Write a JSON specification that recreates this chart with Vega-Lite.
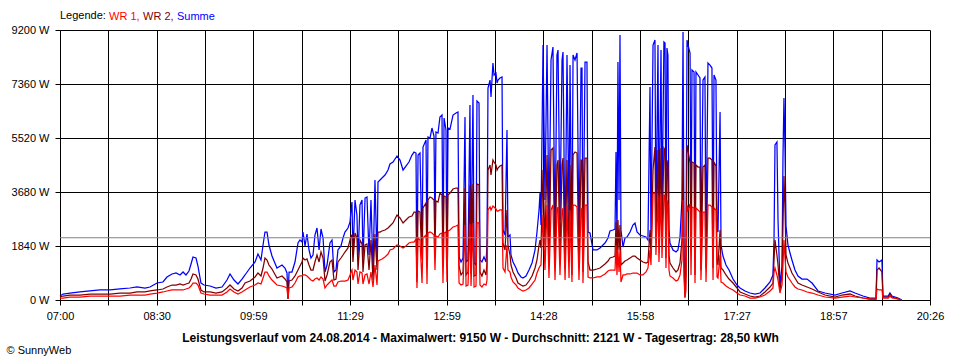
{
  "$schema": "https://vega.github.io/schema/vega-lite/v6.json",
  "autosize": "none",
  "width": 870,
  "height": 270,
  "padding": {"left": 60, "top": 30, "right": 30, "bottom": 60},
  "background": "white",
  "config": {
    "font": "Liberation Sans",
    "view": {"stroke": null},
    "axis": {"gridColor": "#000000", "gridOpacity": 1, "gridWidth": 1, "domainColor": "#000000", "tickColor": "#000000", "labelColor": "#000000", "labelFontSize": 11, "tickSize": 5, "titleColor": "#000000"}
  },
  "layer": [
    {
      "data": {"values": [
{"m":0,"wr1":68,"wr2":102,"sum":136},{"m":2.8,"wr1":68,"wr2":136,"sum":204},{"m":9.3,"wr1":102,"wr2":170,"sum":238},{"m":18.5,"wr1":102,"wr2":170,"sum":273},{"m":27.8,"wr1":136,"wr2":204,"sum":307},{"m":37.1,"wr1":136,"wr2":204,"sum":341},{"m":46.3,"wr1":136,"wr2":204,"sum":341},{"m":55.6,"wr1":136,"wr2":238,"sum":375},{"m":64.9,"wr1":170,"wr2":238,"sum":409},{"m":71.3,"wr1":170,"wr2":273,"sum":443},{"m":78.7,"wr1":170,"wr2":273,"sum":409},{"m":83.4,"wr1":204,"wr2":307,"sum":443},{"m":89.9,"wr1":238,"wr2":341,"sum":579},{"m":95.4,"wr1":273,"wr2":375,"sum":613},{"m":99.1,"wr1":307,"wr2":443,"sum":784},{"m":103.8,"wr1":341,"wr2":511,"sum":886},{"m":107.5,"wr1":341,"wr2":511,"sum":920},{"m":111.2,"wr1":341,"wr2":545,"sum":852},{"m":114.0,"wr1":341,"wr2":511,"sum":954},{"m":116.7,"wr1":375,"wr2":545,"sum":852},{"m":119.5,"wr1":409,"wr2":579,"sum":988},{"m":121.4,"wr1":477,"wr2":715,"sum":1227},{"m":123.2,"wr1":579,"wr2":886,"sum":1465},{"m":126.0,"wr1":579,"wr2":852,"sum":1431},{"m":127.8,"wr1":511,"wr2":715,"sum":1158},{"m":130.6,"wr1":238,"wr2":341,"sum":579},{"m":133.4,"wr1":204,"wr2":273,"sum":511},{"m":139.0,"wr1":170,"wr2":273,"sum":477},{"m":144.5,"wr1":170,"wr2":238,"sum":409},{"m":150.1,"wr1":170,"wr2":273,"sum":443},{"m":154.7,"wr1":273,"wr2":409,"sum":681},{"m":157.5,"wr1":375,"wr2":511,"sum":886},{"m":161.2,"wr1":273,"wr2":375,"sum":681},{"m":164.9,"wr1":204,"wr2":307,"sum":545},{"m":168.6,"wr1":273,"wr2":409,"sum":715},{"m":171.4,"wr1":341,"wr2":579,"sum":852},{"m":176.0,"wr1":443,"wr2":647,"sum":1090},{"m":180.7,"wr1":511,"wr2":784,"sum":1295},{"m":183.4,"wr1":579,"wr2":920,"sum":1567},{"m":186.2,"wr1":545,"wr2":818,"sum":1363},{"m":188.1,"wr1":750,"wr2":1090,"sum":1874},{"m":189.9,"wr1":954,"wr2":1431,"sum":2317},{"m":191.8,"wr1":954,"wr2":1363,"sum":2317},{"m":193.6,"wr1":818,"wr2":1192,"sum":1874},{"m":196.4,"wr1":681,"wr2":1056,"sum":1499},{"m":201.0,"wr1":511,"wr2":750,"sum":1090},{"m":205.7,"wr1":477,"wr2":818,"sum":1192},{"m":208.4,"wr1":443,"wr2":715,"sum":1090},{"m":210.3,"wr1":409,"wr2":613,"sum":920},{"m":211.2,"wr1":34,"wr2":34,"sum":68},{"m":212.2,"wr1":409,"wr2":647,"sum":954},{"m":214.9,"wr1":443,"wr2":681,"sum":954},{"m":217.7,"wr1":579,"wr2":818,"sum":1295},{"m":220.5,"wr1":784,"wr2":1022,"sum":1942},{"m":222.3,"wr1":818,"wr2":1158,"sum":2044},{"m":224.2,"wr1":818,"wr2":1295,"sum":1976},{"m":225.1,"wr1":852,"wr2":1431,"sum":2317},{"m":227.0,"wr1":852,"wr2":1363,"sum":1840},{"m":228.8,"wr1":818,"wr2":1397,"sum":2249},{"m":230.7,"wr1":750,"wr2":1192,"sum":1704},{"m":232.5,"wr1":681,"wr2":1022,"sum":1431},{"m":234.4,"wr1":647,"wr2":1022,"sum":1533},{"m":236.2,"wr1":715,"wr2":1295,"sum":2215},{"m":238.1,"wr1":750,"wr2":1533,"sum":2453},{"m":240.0,"wr1":681,"wr2":1295,"sum":1704},{"m":241.8,"wr1":784,"wr2":1635,"sum":2419},{"m":243.7,"wr1":715,"wr2":1431,"sum":2112},{"m":245.5,"wr1":409,"wr2":647,"sum":954},{"m":247.4,"wr1":511,"wr2":852,"sum":1192},{"m":250.1,"wr1":613,"wr2":1295,"sum":1942},{"m":252.0,"wr1":681,"wr2":1363,"sum":2044},{"m":253.8,"wr1":477,"wr2":681,"sum":954},{"m":255.7,"wr1":477,"wr2":715,"sum":1022},{"m":257.5,"wr1":613,"wr2":1295,"sum":1704},{"m":260.3,"wr1":647,"wr2":1431,"sum":1840},{"m":262.2,"wr1":647,"wr2":1533,"sum":2112},{"m":264.0,"wr1":647,"wr2":1635,"sum":2317},{"m":266.8,"wr1":681,"wr2":1772,"sum":2453},{"m":268.7,"wr1":852,"wr2":2044,"sum":2658},{"m":269.6,"wr1":954,"wr2":2180,"sum":3067},{"m":270.5,"wr1":1022,"wr2":2215,"sum":3339},{"m":271.4,"wr1":681,"wr2":1295,"sum":1533},{"m":273.3,"wr1":1022,"wr2":2283,"sum":3407},{"m":275.1,"wr1":954,"wr2":2112,"sum":2896},{"m":276.1,"wr1":545,"wr2":1022,"sum":1431},{"m":277.9,"wr1":954,"wr2":2044,"sum":3237},{"m":279.8,"wr1":920,"wr2":1908,"sum":3407},{"m":280.7,"wr1":545,"wr2":954,"sum":1363},{"m":282.6,"wr1":852,"wr2":1874,"sum":3475},{"m":284.4,"wr1":886,"wr2":1908,"sum":3509},{"m":286.3,"wr1":545,"wr2":1022,"sum":1533},{"m":288.1,"wr1":954,"wr2":2044,"sum":3407},{"m":290.0,"wr1":443,"wr2":681,"sum":1022},{"m":291.8,"wr1":1192,"wr2":2249,"sum":4089},{"m":293.7,"wr1":511,"wr2":1022,"sum":1295},{"m":294.6,"wr1":1329,"wr2":2317,"sum":4020},{"m":296.5,"wr1":1363,"wr2":2317,"sum":4089},{"m":298.3,"wr1":1397,"wr2":2351,"sum":4157},{"m":301.1,"wr1":1465,"wr2":2385,"sum":4259},{"m":303.9,"wr1":1567,"wr2":2453,"sum":4429},{"m":305.7,"wr1":1704,"wr2":2521,"sum":4634},{"m":308.5,"wr1":1738,"wr2":2624,"sum":4702},{"m":312.2,"wr1":1874,"wr2":2896,"sum":4906},{"m":315.0,"wr1":1840,"wr2":2794,"sum":4770},{"m":317.8,"wr1":1772,"wr2":2624,"sum":4429},{"m":320.5,"wr1":1840,"wr2":2726,"sum":4565},{"m":323.3,"wr1":1942,"wr2":2828,"sum":4702},{"m":326.1,"wr1":1976,"wr2":2862,"sum":4940},{"m":328.0,"wr1":1976,"wr2":2998,"sum":5042},{"m":329.8,"wr1":2078,"wr2":2998,"sum":5008},{"m":330.7,"wr1":409,"wr2":613,"sum":784},{"m":331.7,"wr1":2112,"wr2":3032,"sum":4940},{"m":333.5,"wr1":2044,"wr2":2998,"sum":5008},{"m":335.4,"wr1":579,"wr2":1363,"sum":1704},{"m":336.3,"wr1":2112,"wr2":3134,"sum":5213},{"m":339.1,"wr1":2215,"wr2":3305,"sum":5451},{"m":340.0,"wr1":545,"wr2":1192,"sum":1465},{"m":340.9,"wr1":2283,"wr2":3407,"sum":5554},{"m":342.8,"wr1":2317,"wr2":3509,"sum":5520},{"m":344.6,"wr1":2283,"wr2":3475,"sum":5860},{"m":346.5,"wr1":2215,"wr2":3407,"sum":5588},{"m":347.4,"wr1":1022,"wr2":1704,"sum":2385},{"m":348.3,"wr1":2180,"wr2":3373,"sum":5724},{"m":350.2,"wr1":2146,"wr2":3339,"sum":5690},{"m":352.0,"wr1":2249,"wr2":3645,"sum":6235},{"m":353.9,"wr1":2283,"wr2":3577,"sum":6303},{"m":354.8,"wr1":579,"wr2":1295,"sum":1363},{"m":355.8,"wr1":2283,"wr2":3543,"sum":6201},{"m":357.6,"wr1":2317,"wr2":3509,"sum":5792},{"m":358.5,"wr1":613,"wr2":1192,"sum":1465},{"m":359.5,"wr1":2351,"wr2":3577,"sum":5860},{"m":361.3,"wr1":2385,"wr2":3645,"sum":5826},{"m":364.1,"wr1":2487,"wr2":3782,"sum":6303},{"m":366.9,"wr1":2521,"wr2":3816,"sum":6371},{"m":368.7,"wr1":2555,"wr2":3816,"sum":6405},{"m":369.7,"wr1":579,"wr2":1158,"sum":1465},{"m":371.5,"wr1":511,"wr2":852,"sum":1295},{"m":373.4,"wr1":545,"wr2":954,"sum":1431},{"m":375.2,"wr1":2555,"wr2":3816,"sum":6235},{"m":376.2,"wr1":477,"wr2":852,"sum":1295},{"m":378.0,"wr1":511,"wr2":954,"sum":1363},{"m":379.8,"wr1":2589,"wr2":3918,"sum":6644},{"m":380.8,"wr1":477,"wr2":886,"sum":1295},{"m":382.6,"wr1":2624,"wr2":3952,"sum":6984},{"m":383.6,"wr1":443,"wr2":818,"sum":1261},{"m":385.4,"wr1":477,"wr2":852,"sum":1192},{"m":386.3,"wr1":2624,"wr2":3952,"sum":6780},{"m":388.2,"wr1":2624,"wr2":3918,"sum":6712},{"m":389.1,"wr1":511,"wr2":954,"sum":1363},{"m":390.9,"wr1":443,"wr2":818,"sum":1295},{"m":392.8,"wr1":545,"wr2":1022,"sum":1465},{"m":394.7,"wr1":511,"wr2":852,"sum":1295},{"m":395.6,"wr1":681,"wr2":1295,"sum":1874},{"m":396.5,"wr1":3067,"wr2":4429,"sum":7223},{"m":398.4,"wr1":3169,"wr2":4599,"sum":7495},{"m":399.3,"wr1":3067,"wr2":4259,"sum":6916},{"m":401.1,"wr1":3203,"wr2":4770,"sum":8075},{"m":402.1,"wr1":3169,"wr2":4702,"sum":7666},{"m":403.9,"wr1":3101,"wr2":4599,"sum":7734},{"m":404.9,"wr1":3032,"wr2":4429,"sum":7393},{"m":405.8,"wr1":3032,"wr2":4497,"sum":7495},{"m":407.6,"wr1":3067,"wr2":4565,"sum":7564},{"m":409.5,"wr1":3067,"wr2":4599,"sum":7598},{"m":410.4,"wr1":1090,"wr2":1942,"sum":2385},{"m":412.3,"wr1":954,"wr2":1704,"sum":2215},{"m":414.1,"wr1":1874,"wr2":3067,"sum":5792},{"m":415.0,"wr1":1022,"wr2":1874,"sum":2146},{"m":416.9,"wr1":954,"wr2":1533,"sum":2215},{"m":417.8,"wr1":784,"wr2":1192,"sum":1533},{"m":419.7,"wr1":613,"wr2":954,"sum":1295},{"m":422.5,"wr1":511,"wr2":750,"sum":1090},{"m":424.3,"wr1":409,"wr2":579,"sum":920},{"m":427.1,"wr1":341,"wr2":511,"sum":784},{"m":428.9,"wr1":307,"wr2":477,"sum":750},{"m":431.7,"wr1":341,"wr2":511,"sum":818},{"m":434.5,"wr1":409,"wr2":647,"sum":1022},{"m":437.3,"wr1":545,"wr2":818,"sum":1261},{"m":440.1,"wr1":681,"wr2":1090,"sum":1704},{"m":441.9,"wr1":920,"wr2":1363,"sum":2317},{"m":443.8,"wr1":1090,"wr2":1874,"sum":3067},{"m":444.7,"wr1":1158,"wr2":2044,"sum":3645},{"m":445.6,"wr1":1192,"wr2":1772,"sum":2555},{"m":447.5,"wr1":2896,"wr2":4429,"sum":8688},{"m":449.3,"wr1":1022,"wr2":1874,"sum":3407},{"m":451.2,"wr1":3237,"wr2":4940,"sum":8688},{"m":453.0,"wr1":750,"wr2":1363,"sum":2385},{"m":454.9,"wr1":3067,"wr2":5111,"sum":8177},{"m":456.7,"wr1":3237,"wr2":5179,"sum":8620},{"m":458.6,"wr1":681,"wr2":1192,"sum":2044},{"m":460.4,"wr1":3067,"wr2":4599,"sum":8347},{"m":461.4,"wr1":3169,"wr2":4770,"sum":8518},{"m":463.2,"wr1":852,"wr2":1533,"sum":2726},{"m":465.1,"wr1":2998,"wr2":4599,"sum":8177},{"m":466.0,"wr1":3134,"wr2":4838,"sum":8449},{"m":467.9,"wr1":681,"wr2":1090,"sum":1533},{"m":469.7,"wr1":3203,"wr2":4770,"sum":8347},{"m":471.6,"wr1":750,"wr2":1295,"sum":2555},{"m":472.5,"wr1":3067,"wr2":4599,"sum":8006},{"m":474.3,"wr1":613,"wr2":852,"sum":1533},{"m":475.3,"wr1":3237,"wr2":4940,"sum":8347},{"m":477.1,"wr1":3237,"wr2":5042,"sum":8177},{"m":479.0,"wr1":3169,"wr2":5008,"sum":8415},{"m":480.8,"wr1":681,"wr2":1090,"sum":2044},{"m":482.7,"wr1":3067,"wr2":4770,"sum":7904},{"m":483.6,"wr1":3134,"wr2":4770,"sum":7904},{"m":484.5,"wr1":579,"wr2":954,"sum":1363},{"m":486.4,"wr1":3237,"wr2":4838,"sum":8109},{"m":488.2,"wr1":3237,"wr2":4838,"sum":8109},{"m":489.2,"wr1":784,"wr2":1295,"sum":2317},{"m":491.0,"wr1":750,"wr2":1022,"sum":2283},{"m":493.8,"wr1":750,"wr2":1022,"sum":1704},{"m":497.5,"wr1":784,"wr2":1056,"sum":1704},{"m":500.3,"wr1":784,"wr2":1090,"sum":1772},{"m":504.9,"wr1":886,"wr2":1227,"sum":1942},{"m":507.7,"wr1":988,"wr2":1329,"sum":2112},{"m":509.5,"wr1":1022,"wr2":1431,"sum":2351},{"m":512.3,"wr1":1022,"wr2":1465,"sum":2385},{"m":514.2,"wr1":1022,"wr2":1499,"sum":2419},{"m":515.1,"wr1":1874,"wr2":2658,"sum":5042},{"m":516.0,"wr1":852,"wr2":1295,"sum":2044},{"m":516.9,"wr1":1704,"wr2":2726,"sum":8109},{"m":517.9,"wr1":954,"wr2":1704,"sum":3407},{"m":518.8,"wr1":1704,"wr2":2555,"sum":9029},{"m":519.7,"wr1":613,"wr2":1192,"sum":2385},{"m":521.6,"wr1":852,"wr2":1261,"sum":1806},{"m":523.4,"wr1":852,"wr2":1329,"sum":2112},{"m":525.3,"wr1":886,"wr2":1363,"sum":2146},{"m":528.1,"wr1":886,"wr2":1431,"sum":2317},{"m":530.8,"wr1":920,"wr2":1499,"sum":2555},{"m":532.7,"wr1":920,"wr2":1499,"sum":2624},{"m":534.6,"wr1":920,"wr2":1431,"sum":2317},{"m":537.3,"wr1":852,"wr2":1363,"sum":2215},{"m":540.1,"wr1":852,"wr2":1295,"sum":2180},{"m":542.9,"wr1":954,"wr2":1261,"sum":2146},{"m":544.7,"wr1":1090,"wr2":1295,"sum":2044},{"m":546.6,"wr1":1704,"wr2":2385,"sum":7257},{"m":547.5,"wr1":1192,"wr2":1533,"sum":2044},{"m":549.4,"wr1":3645,"wr2":4429,"sum":8688},{"m":551.2,"wr1":3645,"wr2":5213,"sum":8859},{"m":552.1,"wr1":1533,"wr2":2044,"sum":2385},{"m":554.0,"wr1":3577,"wr2":5111,"sum":8688},{"m":554.9,"wr1":1295,"wr2":1874,"sum":2555},{"m":556.8,"wr1":3611,"wr2":5179,"sum":8518},{"m":557.7,"wr1":1431,"wr2":2044,"sum":2862},{"m":559.5,"wr1":3577,"wr2":5179,"sum":8790},{"m":560.5,"wr1":3577,"wr2":5111,"sum":8756},{"m":561.4,"wr1":1090,"wr2":1431,"sum":2215},{"m":562.3,"wr1":3407,"wr2":4770,"sum":8586},{"m":563.2,"wr1":3237,"wr2":4599,"sum":8347},{"m":564.2,"wr1":1022,"wr2":1533,"sum":2385},{"m":565.1,"wr1":818,"wr2":1261,"sum":1942},{"m":567.9,"wr1":750,"wr2":1090,"sum":1704},{"m":570.7,"wr1":647,"wr2":954,"sum":1635},{"m":572.5,"wr1":681,"wr2":1022,"sum":1704},{"m":574.4,"wr1":852,"wr2":1261,"sum":2146},{"m":576.2,"wr1":1363,"wr2":2044,"sum":3407},{"m":577.2,"wr1":3407,"wr2":5111,"sum":9131},{"m":578.1,"wr1":750,"wr2":1363,"sum":1704},{"m":579.0,"wr1":68,"wr2":102,"sum":170},{"m":579.9,"wr1":341,"wr2":852,"sum":1533},{"m":580.9,"wr1":3237,"wr2":5281,"sum":8859},{"m":581.8,"wr1":3067,"wr2":5111,"sum":8688},{"m":583.7,"wr1":3271,"wr2":4667,"sum":8415},{"m":584.6,"wr1":852,"wr2":1704,"sum":2385},{"m":585.5,"wr1":3169,"wr2":4702,"sum":7836},{"m":587.4,"wr1":3134,"wr2":4667,"sum":7768},{"m":588.3,"wr1":579,"wr2":852,"sum":1363},{"m":589.2,"wr1":3134,"wr2":4599,"sum":7768},{"m":591.1,"wr1":3067,"wr2":4531,"sum":7666},{"m":592.9,"wr1":2998,"wr2":4531,"sum":7564},{"m":593.8,"wr1":681,"wr2":1022,"sum":1533},{"m":595.7,"wr1":2998,"wr2":4531,"sum":7495},{"m":597.5,"wr1":2998,"wr2":4599,"sum":7598},{"m":598.5,"wr1":613,"wr2":1090,"sum":1704},{"m":600.3,"wr1":3237,"wr2":4838,"sum":8075},{"m":602.2,"wr1":3237,"wr2":4838,"sum":8006},{"m":604.0,"wr1":3169,"wr2":4770,"sum":7904},{"m":605.0,"wr1":681,"wr2":1090,"sum":1704},{"m":605.9,"wr1":3134,"wr2":4702,"sum":7666},{"m":607.7,"wr1":3067,"wr2":4565,"sum":7495},{"m":608.7,"wr1":784,"wr2":1295,"sum":2385},{"m":609.6,"wr1":750,"wr2":1192,"sum":2317},{"m":611.5,"wr1":1533,"wr2":2385,"sum":6405},{"m":612.4,"wr1":613,"wr2":1090,"sum":1874},{"m":614.2,"wr1":579,"wr2":1022,"sum":1499},{"m":617.0,"wr1":477,"wr2":852,"sum":1192},{"m":619.8,"wr1":409,"wr2":715,"sum":1022},{"m":623.5,"wr1":341,"wr2":579,"sum":715},{"m":627.2,"wr1":238,"wr2":409,"sum":511},{"m":630.0,"wr1":170,"wr2":273,"sum":409},{"m":634.6,"wr1":136,"wr2":204,"sum":307},{"m":639.2,"wr1":68,"wr2":136,"sum":238},{"m":643.9,"wr1":68,"wr2":102,"sum":204},{"m":648.5,"wr1":102,"wr2":136,"sum":238},{"m":653.1,"wr1":170,"wr2":273,"sum":409},{"m":657.8,"wr1":307,"wr2":443,"sum":613},{"m":660.5,"wr1":409,"wr2":579,"sum":852},{"m":661.5,"wr1":954,"wr2":1363,"sum":2044},{"m":662.4,"wr1":1090,"wr2":2044,"sum":5281},{"m":664.2,"wr1":852,"wr2":1533,"sum":5383},{"m":665.2,"wr1":681,"wr2":1192,"sum":2726},{"m":667.0,"wr1":238,"wr2":341,"sum":477},{"m":668.9,"wr1":511,"wr2":852,"sum":1158},{"m":669.8,"wr1":1192,"wr2":2555,"sum":4872},{"m":670.7,"wr1":2044,"wr2":4225,"sum":6882},{"m":671.7,"wr1":1431,"wr2":3067,"sum":5111},{"m":672.6,"wr1":954,"wr2":1533,"sum":2521},{"m":674.4,"wr1":784,"wr2":1261,"sum":1874},{"m":676.3,"wr1":681,"wr2":1090,"sum":1601},{"m":678.1,"wr1":579,"wr2":920,"sum":1363},{"m":680.9,"wr1":443,"wr2":750,"sum":1022},{"m":683.7,"wr1":375,"wr2":579,"sum":818},{"m":687.4,"wr1":341,"wr2":511,"sum":715},{"m":692.1,"wr1":273,"wr2":443,"sum":715},{"m":696.7,"wr1":238,"wr2":375,"sum":579},{"m":702.3,"wr1":170,"wr2":273,"sum":307},{"m":708.7,"wr1":102,"wr2":170,"sum":238},{"m":718.0,"wr1":68,"wr2":102,"sum":170},{"m":724.5,"wr1":102,"wr2":170,"sum":238},{"m":731.9,"wr1":136,"wr2":204,"sum":307},{"m":736.5,"wr1":102,"wr2":136,"sum":238},{"m":743.9,"wr1":68,"wr2":68,"sum":136},{"m":750.4,"wr1":34,"wr2":34,"sum":68},{"m":756.0,"wr1":34,"wr2":34,"sum":68},{"m":756.9,"wr1":375,"wr2":1022,"sum":1363},{"m":758.8,"wr1":341,"wr2":1090,"sum":1295},{"m":761.5,"wr1":341,"wr2":954,"sum":1363},{"m":762.4,"wr1":68,"wr2":102,"sum":136},{"m":767.3,"wr1":68,"wr2":102,"sum":136},{"m":768.9,"wr1":136,"wr2":204,"sum":238},{"m":770.8,"wr1":68,"wr2":102,"sum":136},{"m":776.4,"wr1":34,"wr2":34,"sum":68},{"m":780.0,"wr1":0,"wr2":0,"sum":0}
      ]},
      "transform": [{"fold": ["sum", "wr2", "wr1"], "as": ["series", "watt"]}],
      "mark": {"type": "line", "strokeWidth": 1.25, "interpolate": "linear"},
      "encoding": {
        "x": {
          "field": "m", "type": "quantitative",
          "scale": {"domain": [0, 806], "nice": false, "zero": false},
          "axis": {
            "values": [0, 44.7778, 89.5556, 134.3333, 179.1111, 223.8889, 268.6667, 313.4444, 358.2222, 403, 447.7778, 492.5556, 537.3333, 582.1111, 626.8889, 671.6667, 716.4444, 761.2222, 806],
            "labelExpr": "['07:00','','08:30','','09:59','','11:29','','12:59','','14:28','','15:58','','17:27','','18:57','','20:26'][round(datum.value/44.7778)]",
            "grid": true, "labelPadding": 5, "labelFlush": false, "labelOverlap": false,
            "title": "Leistungsverlauf vom 24.08.2014 - Maximalwert: 9150 W - Durchschnitt: 2121 W - Tagesertrag: 28,50 kWh",
            "titleFontWeight": "bold", "titleFontSize": 12, "titleX": 420, "titleY": 41, "titleAlign": "center", "titleBaseline": "alphabetic", "titleAnchor": null
          }
        },
        "y": {
          "field": "watt", "type": "quantitative",
          "scale": {"domain": [0, 9200], "nice": false},
          "axis": {
            "values": [0, 1840, 3680, 5520, 7360, 9200],
            "labelExpr": "format(datum.value, 'd') + ' W'",
            "grid": true, "labelPadding": 6,
            "title": "© SunnyWeb", "titleAngle": 0, "titleX": -54, "titleY": 323, "titleAlign": "left", "titleBaseline": "alphabetic", "titleFontWeight": "normal", "titleFontSize": 11
          }
        },
        "color": {
          "field": "series", "type": "nominal",
          "scale": {"domain": ["wr1", "wr2", "sum"], "range": ["#ff0000", "#800000", "#0000ff"]},
          "legend": {
            "orient": "none", "legendX": 0, "legendY": -19, "direction": "horizontal", "gridAlign": "none",
            "title": "Legende:", "titleOrient": "left", "titleFontSize": 11, "titleFontWeight": "normal", "titleColor": "#000000", "titlePadding": 3,
            "labelFontSize": 11, "symbolType": "circle", "symbolSize": 0, "symbolOpacity": 0, "symbolStrokeWidth": 0, "labelOffset": -11, "columnPadding": 3, "padding": 0,
            "labelExpr": "{'wr1':'WR 1,','wr2':'WR 2,','sum':'Summe'}[datum.label]",
            "encode": {"labels": {"update": {"fill": {"scale": "color", "field": "value"}}}}
          }
        }
      }
    },
    {
      "data": {"values": [{"avg": 2121}]},
      "mark": {"type": "rule", "color": "#808080", "strokeWidth": 1},
      "encoding": {"y": {"field": "avg", "type": "quantitative"}}
    }
  ]
}
